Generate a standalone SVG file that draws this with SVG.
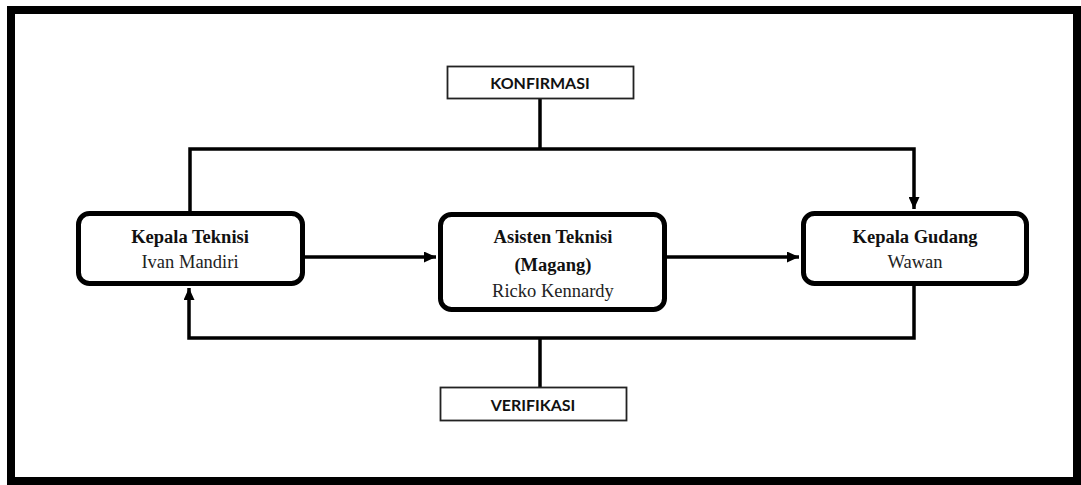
<svg xmlns="http://www.w3.org/2000/svg" width="1081" height="485" viewBox="0 0 1081 485">
<style>
.frame{fill:#fff;stroke:#000;stroke-width:8}
.node{fill:#fff;stroke:#000;stroke-width:5}
.lbl{fill:#fff;stroke:#222;stroke-width:1.8}
.con{fill:none;stroke:#000;stroke-width:3.5}
.t{font-family:"Liberation Serif","Times New Roman",serif;font-size:18.5px;text-anchor:middle;fill:#111}
.b{font-weight:bold}
.n{fill:#222}
.l{font-family:Lato,"Liberation Sans",sans-serif;font-size:16px;font-weight:bold;text-anchor:middle;fill:#111}
</style>
<defs>
<marker id="ah" markerUnits="userSpaceOnUse" markerWidth="13" markerHeight="11" refX="12" refY="5.5" orient="auto">
<path d="M0,0 L12,5.5 L0,11 z" fill="#000"/>
</marker>
</defs>
<rect class="frame" x="11" y="10" width="1066" height="471"/>
<g id="connectors">
<path class="con" d="M190,211 V149 H914 V209" marker-end="url(#ah)"/>
<path class="con" d="M540,99 V149"/>
<path class="con" d="M914,286 V338 H189 V288" marker-end="url(#ah)"/>
<path class="con" d="M540,338 V387"/>
<path class="con" d="M305,257 H436" marker-end="url(#ah)"/>
<path class="con" d="M667,257 H799" marker-end="url(#ah)"/>
</g>
<g id="konfirmasi">
<rect class="lbl" x="447.5" y="66.5" width="186" height="32"/>
<text class="l" x="540" y="89">KONFIRMASI</text>
</g>
<g id="verifikasi">
<rect class="lbl" x="440.5" y="387.5" width="186" height="33"/>
<text class="l" x="533" y="411">VERIFIKASI</text>
</g>
<g id="kepala-teknisi">
<rect class="node" x="78.5" y="213.5" width="224" height="70" rx="11"/>
<text class="t b" x="190" y="243">Kepala Teknisi</text>
<text class="t n" x="190" y="268">Ivan Mandiri</text>
</g>
<g id="asisten-teknisi">
<rect class="node" x="440.5" y="214.5" width="224" height="95" rx="11"/>
<text class="t b" x="553" y="243">Asisten Teknisi</text>
<text class="t b" x="553" y="271">(Magang)</text>
<text class="t n" x="553" y="297">Ricko Kennardy</text>
</g>
<g id="kepala-gudang">
<rect class="node" x="803.5" y="213.5" width="223" height="70" rx="11"/>
<text class="t b" x="915" y="243">Kepala Gudang</text>
<text class="t n" x="915" y="268">Wawan</text>
</g>
</svg>
